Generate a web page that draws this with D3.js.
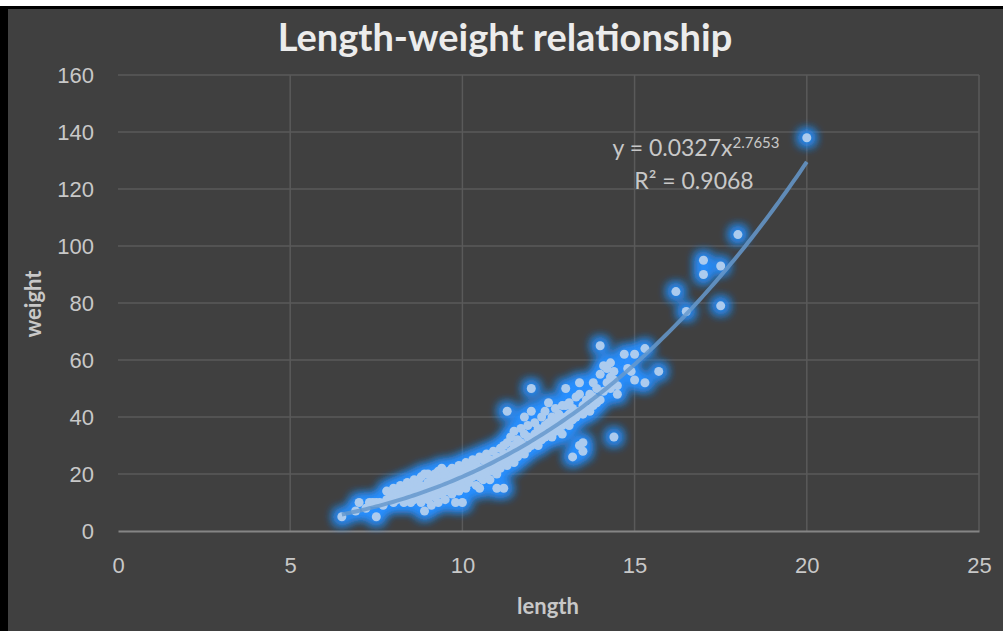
<!DOCTYPE html>
<html>
<head>
<meta charset="utf-8">
<script src="https://cdn.jsdelivr.net/npm/d3@7"></script>
<style>
body { margin: 0; background: #ffffff; }
</style>
</head>
<body>
<div id="chart"></div>
<script>
// lengths / weights
var lengths = [6.5,7,6.9,7.5,7.3,7.4,7.5,7.6,7.2,7.7,7.8,7.9,7.8,8.0,8.0,8.0,
 8.1,8.1,8.2,8.2,8.2,8.3,8.3,8.3,8.4,8.4,8.4,8.5,8.5,8.5,8.5,8.6,8.6,8.6,8.7,8.7,8.7,8.8,8.8,8.8,8.8,8.9,8.9,8.9,8.9,9.0,9.0,9.0,9.0,
 9.1,9.1,9.1,9.1,9.2,9.2,9.2,9.2,9.3,9.3,9.3,9.3,9.4,9.4,9.4,9.4,9.5,9.5,9.5,9.5,9.6,9.6,9.6,9.7,9.7,9.7,9.7,9.8,9.8,9.8,9.8,9.9,9.9,9.9,9.9,10.0,10.0,10.0,10.0,
 10.1,10.1,10.1,10.1,10.2,10.2,10.2,10.3,10.3,10.3,10.4,10.4,10.4,10.5,10.5,10.5,10.5,10.6,10.6,10.6,10.7,10.7,10.7,10.8,10.8,10.8,10.9,10.9,10.9,11.0,11.0,11.0,11.0,
 11.1,11.1,11.1,11.2,11.2,11.2,11.2,11.3,11.3,11.3,11.3,11.4,11.4,11.4,11.5,11.5,11.5,11.5,11.6,11.6,11.6,11.7,11.7,11.7,11.8,11.8,11.8,11.8,11.9,11.9,11.9,12.0,12.0,12.0,12.0,
 12.1,12.1,12.1,12.2,12.2,12.2,12.3,12.3,12.3,12.4,12.4,12.4,12.5,12.5,12.5,12.6,12.6,12.6,12.7,12.7,12.7,12.8,12.8,12.8,12.9,12.9,12.9,13.0,13.0,13.0,13.0,
 13.1,13.1,13.1,13.2,13.2,13.2,13.3,13.3,13.4,13.4,13.4,13.4,13.5,13.5,13.5,13.5,13.6,13.6,13.7,13.7,13.8,13.8,13.8,13.9,13.9,14.0,14.0,14.0,
 14.1,14.1,14.2,14.2,14.3,14.3,14.3,14.4,14.4,14.4,14.5,14.5,14.7,14.8,14.9,15.0,15.0,15.3,15.3,15.7,
 16.2,16.5,17.0,17.0,17.5,17.5,18.0,20.0];
var weights = [5,10,7,5,10,10,10,10,8,9,11,12,14,10,13,15,
 11,14,12,15,16,10,13,15,12,14,17,10,13,15,16,11,14,18,12,15,17,10,13,16,19,20,7,12,15,11,14,17,20,
 9,13,16,19,12,15,18,20,10,14,17,21,13,16,19,22,11,15,18,20,14,17,21,13,16,19,22,10,15,18,20,14,17,21,23,10,16,19,22,
 15,18,21,24,17,20,23,19,22,25,16,20,24,15,19,22,26,18,21,25,20,23,27,18,22,25,21,24,28,15,20,23,26,
 22,25,29,15,24,27,30,42,23,26,31,25,28,33,24,27,30,35,26,29,32,28,31,36,27,30,34,40,29,33,37,30,32,42,50,
 31,34,38,30,33,36,32,35,40,33,37,42,34,38,45,33,36,40,35,38,43,36,39,41,34,37,44,38,40,44,50,
 37,41,45,26,39,43,40,47,30,42,48,52,28,31,41,44,43,46,42,48,44,47,52,45,50,46,55,65,
 49,58,52,57,54,59,50,33,53,56,51,48,62,57,56,53,62,52,64,56,
 84,77,90,95,93,79,104,138];

// trendline shown on the chart
var trendA = 0.0327, trendB = 2.7653, trendR2 = 0.9068;
var xTicks = [0, 5, 10, 15, 20, 25];
var yTicks = [0, 20, 40, 60, 80, 100, 120, 140, 160];

var W = 1003, H = 631;
var margin = {top: 75, right: 24, bottom: 100, left: 118},
	width = 979 - margin.left,
	height = 531 - margin.top;

var svg = d3.select("#chart").append("svg")
	.attr("width", W)
	.attr("height", H)
	.style("font-family", "Lato, 'Open Sans', sans-serif");

// frame + dark background
svg.append("rect").attr("x", 0).attr("y", 6).attr("width", W).attr("height", H - 6).attr("fill", "#000");
svg.append("rect").attr("x", 8).attr("y", 9).attr("width", W - 8).attr("height", H - 9).attr("fill", "#404040");

var defs = svg.append("defs");
var f = defs.append("filter").attr("id", "glow")
	.attr("x", "-50%").attr("y", "-50%").attr("width", "200%").attr("height", "200%");
f.append("feMorphology").attr("operator", "dilate").attr("radius", 2).attr("in", "SourceAlpha").attr("result", "d");
f.append("feGaussianBlur").attr("in", "d").attr("stdDeviation", 6).attr("result", "b");
f.append("feFlood").attr("flood-color", "#2a8fff");
f.append("feComposite").attr("in2", "b").attr("operator", "in").attr("result", "g");
var m = f.append("feMerge");
m.append("feMergeNode").attr("in", "g");
m.append("feMergeNode").attr("in", "g");
m.append("feMergeNode").attr("in", "g");

var g = svg.append("g")
	.attr("transform", "translate(" + margin.left + "," + margin.top + ")");

var x = d3.scaleLinear().domain([0, 25]).range([0, width]);
var y = d3.scaleLinear().domain([0, 160]).range([height, 0]);

// grid
g.append("g").selectAll("line")
	.data(yTicks.slice(1))
	.enter().append("line")
	.attr("x1", 0).attr("x2", width)
	.attr("y1", function(d) { return y(d); }).attr("y2", function(d) { return y(d); })
	.attr("stroke", "#5a5a5a").attr("stroke-width", 1.5);
g.append("g").selectAll("line")
	.data(xTicks.slice(1))
	.enter().append("line")
	.attr("y1", 0).attr("y2", height)
	.attr("x1", function(d) { return x(d); }).attr("x2", function(d) { return x(d); })
	.attr("stroke", "#5a5a5a").attr("stroke-width", 1.5);

// axes
var xaxis = g.append("g")
	.attr("transform", "translate(0," + height + ")")
	.call(d3.axisBottom(x).tickValues(xTicks).tickSize(0).tickPadding(26));
xaxis.select("path").attr("stroke", "#858585").attr("stroke-width", 2);
xaxis.selectAll("text").attr("fill", "#c8c8c8").style("font-size", "22px");

var yaxis = g.append("g")
	.call(d3.axisLeft(y).tickValues(yTicks).tickSize(0).tickPadding(24));
yaxis.select("path").remove();
yaxis.selectAll("text").attr("fill", "#c8c8c8").style("font-size", "22px");

var pts = lengths.map(function(d, i) { return {l: d, w: weights[i]}; });

// glow layer, then dots
g.append("g").attr("filter", "url(#glow)").selectAll("circle")
	.data(pts).enter().append("circle")
	.attr("cx", function(d) { return x(d.l); })
	.attr("cy", function(d) { return y(d.w); })
	.attr("r", 4.5).attr("fill", "#2a8fff");
g.append("g").selectAll("circle")
	.data(pts).enter().append("circle")
	.attr("cx", function(d) { return x(d.l); })
	.attr("cy", function(d) { return y(d.w); })
	.attr("r", 4.5).attr("fill", "#accbee");

// power trendline
var xs = d3.range(6.5, 20.01, 0.1);
var line = d3.line()
	.x(function(d) { return x(d); })
	.y(function(d) { return y(trendA * Math.pow(d, trendB)); })
	.curve(d3.curveMonotoneX);
g.append("path").datum(xs)
	.attr("d", line)
	.attr("fill", "none")
	.attr("stroke", "#6699cc")
	.attr("stroke-opacity", 0.85)
	.attr("stroke-width", 4);

// equation label
var eq = svg.append("text")
	.attr("x", 696).attr("y", 156)
	.attr("text-anchor", "middle")
	.attr("fill", "#c8c8c8").style("font-size", "23px");
eq.append("tspan").text("y = " + trendA + "x");
eq.append("tspan").attr("dy", -8).style("font-size", "15px").text(trendB);
svg.append("text")
	.attr("x", 694).attr("y", 189)
	.attr("text-anchor", "middle")
	.attr("fill", "#c8c8c8").style("font-size", "23px")
	.text("R\u00b2 = " + trendR2);

// title and axis titles
svg.append("text")
	.attr("x", 505).attr("y", 51)
	.attr("text-anchor", "middle")
	.attr("fill", "#ececec")
	.style("font-size", "38px").style("font-weight", "bold")
	.text("Length-weight relationship");
svg.append("text")
	.attr("x", 548).attr("y", 614)
	.attr("text-anchor", "middle")
	.attr("fill", "#c8c8c8")
	.style("font-size", "22px").style("font-weight", "bold")
	.text("length");
svg.append("text")
	.attr("transform", "translate(41,304) rotate(-90)")
	.attr("text-anchor", "middle")
	.attr("fill", "#c8c8c8")
	.style("font-size", "22px").style("font-weight", "bold")
	.text("weight");
</script>
</body>
</html>
